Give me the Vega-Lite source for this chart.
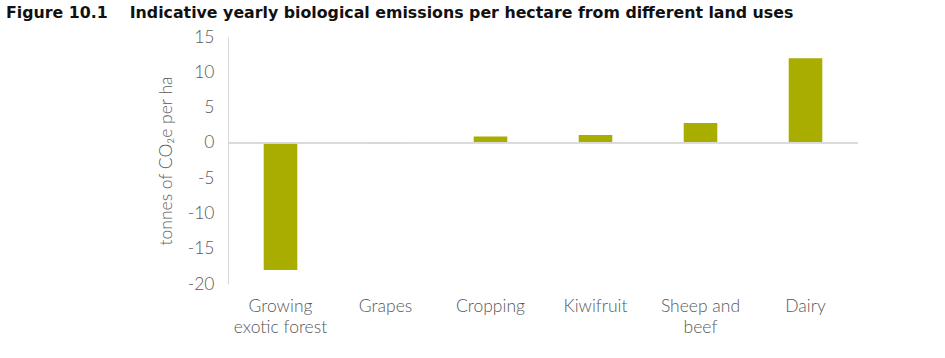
{
  "$schema": "https://vega.github.io/schema/vega-lite/v6.json",
  "autosize": "none",
  "width": 630,
  "height": 247,
  "padding": {"left": 228, "top": 37, "right": 87, "bottom": 74},
  "background": "white",
  "title": {
    "text": "Figure 10.1\u00a0\u00a0\u00a0 Indicative yearly biological emissions per hectare from different land uses",
    "anchor": "start",
    "frame": "group",
    "dx": -222,
    "dy": -6,
    "offset": 0,
    "font": "DejaVu Sans",
    "fontSize": 15.8,
    "fontWeight": "bold",
    "color": "#111111"
  },
  "config": {
    "view": {"stroke": null},
    "axis": {"grid": false, "ticks": false, "labelFont": "Lato", "titleFont": "Lato", "labelColor": "#595959", "titleColor": "#595959", "labelFontWeight": 300},
    "axisY": {
      "titleFontSize": 17.5,
      "titleFontWeight": 300,
      "titlePadding": 12,
      "labelOverlap": false,
      "labelFontSize": 17.5,
      "labelPadding": 14,
      "domainColor": "#d9d9d9"
    }
  },
  "data": {
    "values": [
      {"use": "Growing exotic forest", "value": -18},
      {"use": "Grapes", "value": -0.1},
      {"use": "Cropping", "value": 0.9},
      {"use": "Kiwifruit", "value": 1.1},
      {"use": "Sheep and beef", "value": 2.8},
      {"use": "Dairy", "value": 12}
    ]
  },
  "layer": [
    {
      "mark": {"type": "bar", "color": "#a8ad00"},
      "encoding": {
        "x": {
          "field": "use",
          "type": "nominal",
          "sort": null,
          "scale": {"paddingInner": 0.68, "paddingOuter": 0.34},
          "axis": {
            "title": null,
            "domain": false,
            "labelAngle": 0,
            "labelFontSize": 17.5,
            "labelPadding": 13,
            "labelLineHeight": 21,
            "labelBaseline": "top",
            "labelExpr": "datum.label == 'Growing exotic forest' ? ['Growing', 'exotic forest'] : datum.label == 'Sheep and beef' ? ['Sheep and', 'beef'] : datum.label"
          }
        },
        "y": {
          "field": "value",
          "type": "quantitative",
          "scale": {"domain": [-20, 15], "nice": false},
          "axis": {
            "title": "tonnes of CO₂e per ha",
            "values": [-20, -15, -10, -5, 0, 5, 10, 15],
            "labelExpr": "'' + datum.value"
          }
        }
      }
    },
    {
      "mark": {"type": "rule", "color": "#d9d9d9", "strokeWidth": 1},
      "encoding": {
        "y": {
          "datum": 0,
          "type": "quantitative",
          "axis": {
            "title": "tonnes of CO₂e per ha",
            "values": [-20, -15, -10, -5, 0, 5, 10, 15],
            "labelExpr": "'' + datum.value"
          }
        }
      }
    }
  ]
}
